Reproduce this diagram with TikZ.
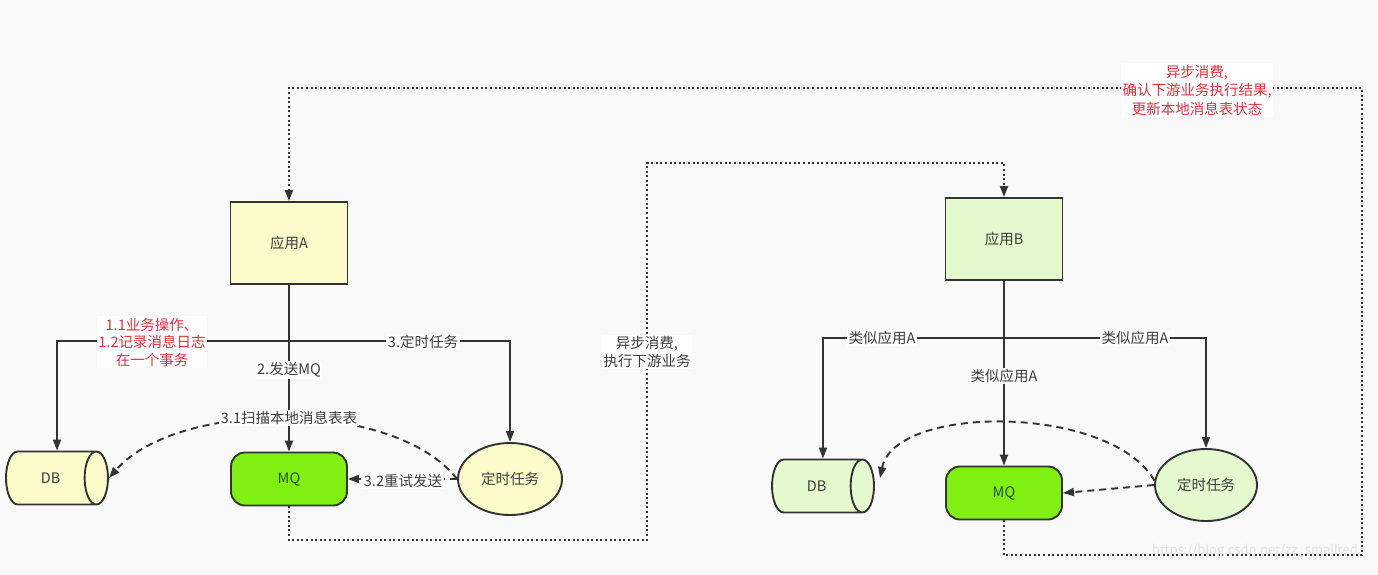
\documentclass[tikz,border=0pt]{standalone}
\usepackage{fontspec}
\newfontfamily\cjk{Noto Sans CJK SC}
\usetikzlibrary{shapes.geometric,arrows.meta}
\definecolor{bg}{RGB}{249,249,250}
\definecolor{ln}{RGB}{51,51,51}
\definecolor{txt}{RGB}{60,60,60}
\definecolor{redt}{RGB}{230,45,60}
\definecolor{yel}{RGB}{252,252,202}
\definecolor{lgreen}{RGB}{228,250,206}
\definecolor{mqgreen}{RGB}{128,240,18}
\begin{document}
\begin{tikzpicture}[x=1pt,y=-1pt,
  every node/.style={font=\cjk\fontsize{14.5}{17.5}\selectfont, text=txt},
  appbox/.style={draw=ln, line width=1.9pt, rectangle, minimum width=117pt, minimum height=82pt, inner sep=0pt},
  mqbox/.style={draw=ln, line width=1.9pt, rectangle, rounded corners=14pt, fill=mqgreen, minimum width=116pt, minimum height=53pt, inner sep=0pt, text={rgb,255:red,40;green,80;blue,20}},
  dbcyl/.style={draw=ln, line width=1.9pt, cylinder, shape aspect=2.2, minimum width=53pt, minimum height=102pt, inner sep=0pt, anchor=shape center},
  taskell/.style={draw=ln, line width=1.9pt, ellipse, inner sep=0pt},
  arr/.style={draw=ln, line width=1.9pt, -{Triangle[length=11pt,width=8pt]}},
  dsh/.style={arr, dash pattern=on 7pt off 5pt},
  dot/.style={arr, dash pattern=on 2pt off 2.6pt},
  lbl/.style={fill=white, inner sep=1.5pt, align=center},
  rlbl/.style={lbl, text=redt}
]
\fill[bg] (0,0) rectangle (1378,574);
\useasboundingbox (0,0) rectangle (1378,574);

% ---------- left system ----------
\node[appbox, fill=yel] (A) at (289,243) {应用A};
\node[dbcyl, fill=yel] (DBa) at (57,478) {DB};
\node[mqbox] (MQa) at (289,479) {MQ};
\node[taskell, fill=yel, minimum width=104pt, minimum height=72pt] (Ta) at (510,479) {定时任务};
\coordinate (jA) at (289,341);

\draw[arr] (A.south) -- (MQa.north);
\draw[arr] (jA) -| (DBa.shape center |- DBa.north);
\draw[arr] (jA) -| (Ta.north);
\node[rlbl] (l11) at (152,342) {1.1业务操作、\\1.2记录消息日志\\在一个事务};
\node[lbl] (l3) at (423,342) {3.定时任务};
\node[lbl] (l2) at (289,370) {2.发送MQ};

\draw[dsh] (Ta.180) .. controls (395,399) and (178,399) .. (DBa.east);
\node[lbl] (l31) at (289,418) {3.1扫描本地消息表表};
\draw[dsh] (Ta.west) -- (MQa.east);
\node[lbl] (l32) at (403,481) {3.2重试发送};

% ---------- right system ----------
\node[appbox, fill=lgreen] (B) at (1004,239) {应用B};
\node[dbcyl, fill=lgreen] (DBb) at (823,486) {DB};
\node[mqbox] (MQb) at (1004,493) {MQ};
\node[taskell, fill=lgreen, minimum width=102pt, minimum height=72pt] (Tb) at (1206,485) {定时任务};
\coordinate (jB) at (1004,338);

\draw[arr] (B.south) -- (MQb.north);
\draw[arr] (jB) -| (DBb.shape center |- DBb.north);
\draw[arr] (jB) -| (Tb.north);
\node[lbl] (lb1) at (882,338) {类似应用A};
\node[lbl] (lb2) at (1135,338) {类似应用A};
\node[lbl] (lb3) at (1004,376) {类似应用A};

\coordinate (dbbe) at (880,478);
\draw[dsh] (Tb.175) .. controls (1110,404) and (895,404) .. (dbbe);
\draw[dsh] (Tb.west) -- (MQb.east);

% ---------- cross-system dotted flows ----------
\coordinate (c1) at (647,163);
\draw[dot] (MQa.south) -- (289,540) -| (c1) -| (B.north);
\node[lbl] (la) at (647,352) {异步消费,\\执行下游业务};

\coordinate (c2) at (1362,88);
\draw[dot] (MQb.south) -- (1004,555) -| (c2) -| (A.north);
\node[rlbl, font=\cjk\fontsize{14.5}{18.5}\selectfont] (lr) at (1197,90) {异步消费,\\确认下游业务执行结果,\\更新本地消息表状态};

\node[text={rgb,255:red,225;green,225;blue,228}, font=\cjk\fontsize{13}{15}\selectfont] (wm) at (1255,551) {https://blog.csdn.net/zz\_smallred};
\end{tikzpicture}
\end{document}
